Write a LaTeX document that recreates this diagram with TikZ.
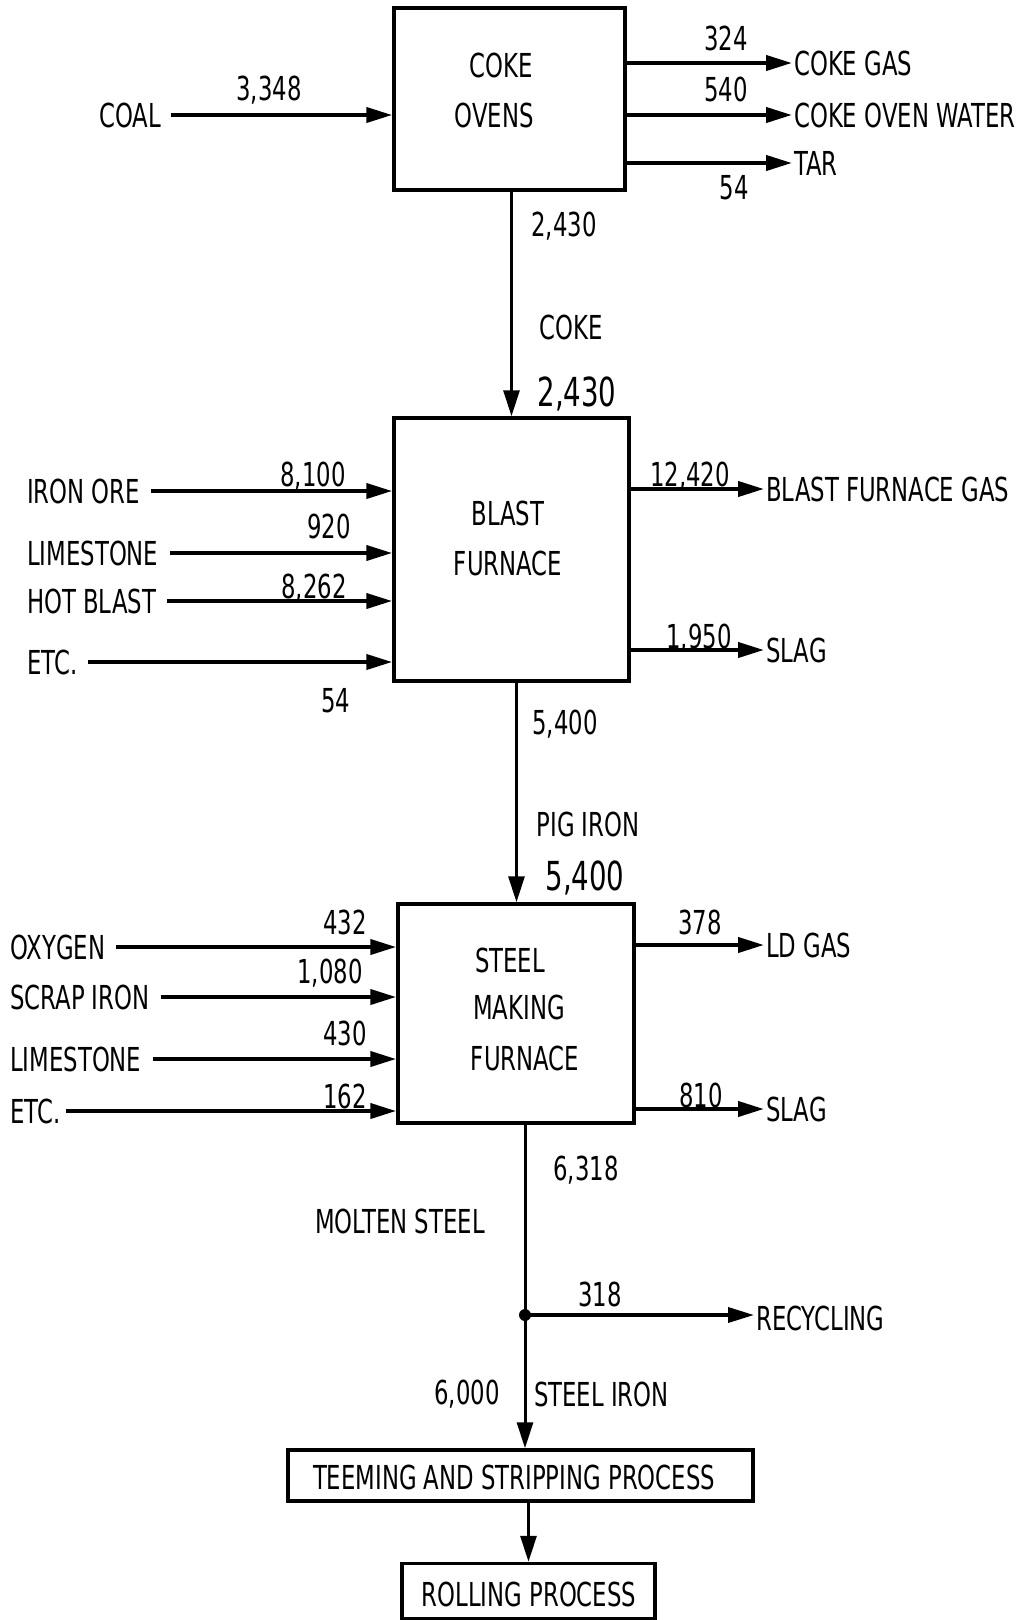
\documentclass[tikz,border=0pt]{standalone}
\usepackage{fontspec}
\setmainfont{DejaVu Sans}[FakeStretch=0.69]
\usetikzlibrary{arrows.meta}
\begin{document}
\begin{tikzpicture}[x=1pt,y=-1pt,
  box/.style={draw, line width=3.5pt, inner sep=0pt},
  flow/.style={line width=4pt, -{Triangle[length=26pt,width=15pt]}},
  mainline/.style={line width=3pt},
  mainflow/.style={line width=3pt, -{Triangle[length=26pt,width=16pt]}},
  txt/.style={font=\fontsize{33}{38}\selectfont, inner sep=0pt},
  bigtxt/.style={font=\fontsize{40}{44}\selectfont, inner sep=0pt},
  lbl/.style={txt, anchor=west},
  num/.style={txt}]
\useasboundingbox (0,0) rectangle (1024,1620);
\fill[white] (0,0) rectangle (1024,1620);

% ---------- Coke ovens ----------
\node[box, minimum width=231pt, minimum height=182pt] (coke) at (509.5,99) {};
\node[txt] (cokeA) at (501,65) {COKE};
\node[txt] (cokeB) at (494,115) {OVENS};

\node[lbl] (coal) at (99,115) {COAL};
\draw[flow] ([xshift=10pt]coal.east) -- (coal.east -| coke.west);
\node[num] (n3348) at (269,90) {3,348};

\node[lbl] (cokegas) at (794,63) {COKE GAS};
\node[lbl] (cokewater) at (794,115) {COKE OVEN WATER};
\node[lbl] (tar) at (794,163) {TAR};
\draw[flow] (coke.east |- cokegas.west) -- ([xshift=-2pt]cokegas.west);
\draw[flow] (coke.east |- cokewater.west) -- ([xshift=-2pt]cokewater.west);
\draw[flow] (coke.east |- tar.west) -- ([xshift=-2pt]tar.west);
\node[num] (n324) at (726,38) {324};
\node[num] (n540) at (726,89) {540};
\node[num] (n54a) at (734,188) {54};

% ---------- Blast furnace ----------
\node[box, minimum width=235pt, minimum height=263pt] (blast) at (511.5,549.5) {};
\node[txt] (blastA) at (508,513) {BLAST};
\node[txt] (blastB) at (508,563) {FURNACE};

\draw[mainflow] (coke.south -| blast.north) -- (blast.north);
\node[num] (n2430a) at (564,226) {2,430};
\node[txt] (coketxt) at (571,327) {COKE};
\node[bigtxt] (n2430b) at (577,394) {2,430};

\node[lbl] (ironore) at (27,491) {IRON ORE};
\node[lbl] (limeA) at (27,553) {LIMESTONE};
\node[lbl] (hotblast) at (27,601) {HOT BLAST};
\node[lbl] (etcA) at (27,662) {ETC.};
\draw[flow] ([xshift=11pt]ironore.east) -- (ironore.east -| blast.west);
\draw[flow] ([xshift=11pt]limeA.east) -- (limeA.east -| blast.west);
\draw[flow] ([xshift=11pt]hotblast.east) -- (hotblast.east -| blast.west);
\draw[flow] ([xshift=11pt]etcA.east) -- (etcA.east -| blast.west);
\node[num] (n8100) at (313,476) {8,100};
\node[num] (n920) at (329,526) {920};
\node[num] (n8262) at (314,588) {8,262};
\node[num] (n54b) at (336,701) {54};

\node[lbl] (bfgas) at (766,489) {BLAST FURNACE GAS};
\node[lbl] (slagA) at (766,650) {SLAG};
\draw[flow] (blast.east |- bfgas.west) -- ([xshift=-2pt]bfgas.west);
\draw[flow] (blast.east |- slagA.west) -- ([xshift=-2pt]slagA.west);
\node[num] (n12420) at (690,476) {12,420};
\node[num] (n1950) at (699,638) {1,950};

% ---------- Steel making furnace ----------
\node[box, minimum width=236pt, minimum height=219pt] (steel) at (516,1013.5) {};
\node[txt] (steelA) at (510,960) {STEEL};
\node[txt] (steelB) at (519,1007) {MAKING};
\node[txt] (steelC) at (525,1058) {FURNACE};

\draw[mainflow] ([xshift=5pt]blast.south) -- ([xshift=5pt]blast.south |- steel.north);
\node[num] (n5400a) at (565,724) {5,400};
\node[txt] (pigiron) at (588,824) {PIG IRON};
\node[bigtxt] (n5400b) at (585,878) {5,400};

\node[lbl] (oxygen) at (10,947) {OXYGEN};
\node[lbl] (scrap) at (10,997) {SCRAP IRON};
\node[lbl] (limeB) at (10,1059) {LIMESTONE};
\node[lbl] (etcB) at (10,1111) {ETC.};
\draw[flow] ([xshift=11pt]oxygen.east) -- (oxygen.east -| steel.west);
\draw[flow] ([xshift=11pt]scrap.east) -- (scrap.east -| steel.west);
\draw[flow] ([xshift=11pt]limeB.east) -- (limeB.east -| steel.west);
\draw[flow] ([xshift=6pt]etcB.east) -- (etcB.east -| steel.west);
\node[num] (n432) at (345,922) {432};
\node[num] (n1080) at (330,973) {1,080};
\node[num] (n430) at (345,1033) {430};
\node[num] (n162) at (345,1096) {162};

\node[lbl] (ldgas) at (766,945) {LD GAS};
\node[lbl] (slagB) at (766,1109) {SLAG};
\draw[flow] (steel.east |- ldgas.west) -- ([xshift=-2pt]ldgas.west);
\draw[flow] (steel.east |- slagB.west) -- ([xshift=-2pt]slagB.west);
\node[num] (n378) at (700,922) {378};
\node[num] (n810) at (701,1095) {810};

% ---------- Molten steel / recycling ----------
\node[box, minimum width=465pt, minimum height=51pt] (teeming) at (520.5,1475.5) {};
\node[txt] (teemingT) at (514,1477) {TEEMING AND STRIPPING PROCESS};
\node[box, minimum width=253pt, minimum height=55pt] (rolling) at (528.5,1591) {};
\node[txt] (rollingT) at (529,1594) {ROLLING PROCESS};

\coordinate (j) at (525,1315);
\draw[mainline] (steel.south -| j) -- (j);
\fill (j) circle (6pt);
\draw[mainflow] (j) -- (j |- teeming.north);
\node[lbl] (recycling) at (756,1318) {RECYCLING};
\draw[flow, line width=3.5pt] (j) -- ([xshift=-2pt]recycling.west |- j);
\node[num] (n318) at (600,1294) {318};
\node[num] (n6318) at (586,1170) {6,318};
\node[txt] (molten) at (400,1221) {MOLTEN STEEL};
\node[num] (n6000) at (467,1394) {6,000};
\node[lbl] (steeliron) at (534,1394) {STEEL IRON};

\draw[mainflow] (teeming.south -| rolling.north) -- (rolling.north);
\end{tikzpicture}
\end{document}
